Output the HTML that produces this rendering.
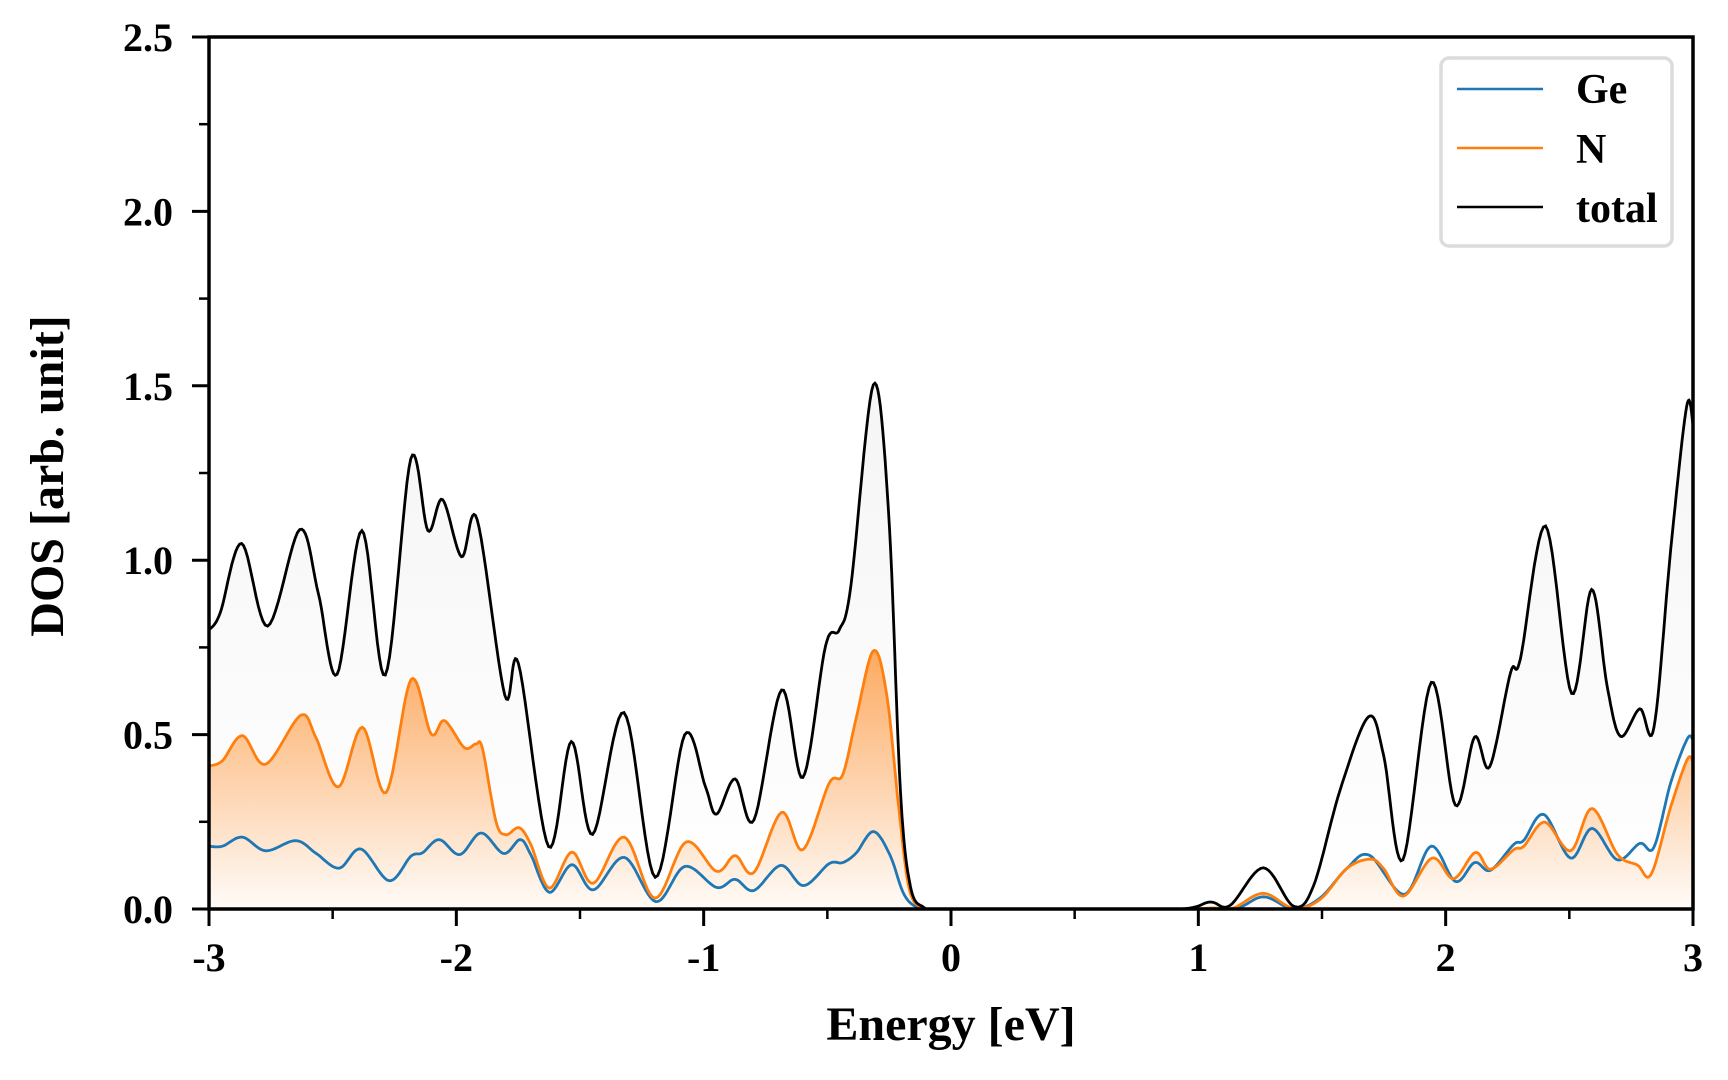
<!DOCTYPE html>
<html><head><meta charset="utf-8">
<style>
html,body{margin:0;padding:0;background:#fff;}
svg{display:block;}
text{font-family:"Liberation Serif",serif;font-weight:bold;fill:#000;}
</style></head>
<body>
<svg id="chart" width="1728" height="1080" viewBox="0 0 1728 1080" xmlns="http://www.w3.org/2000/svg">
<defs>
<linearGradient id="gradTotal" gradientUnits="userSpaceOnUse" x1="0" y1="385" x2="0" y2="909">
<stop offset="0" stop-color="#f5f5f5"/><stop offset="1" stop-color="#ffffff"/>
</linearGradient>
<linearGradient id="gradN" gradientUnits="userSpaceOnUse" x1="0" y1="650" x2="0" y2="909">
<stop offset="0" stop-color="#ff7f0e" stop-opacity="0.65"/><stop offset="1" stop-color="#ff7f0e" stop-opacity="0.03"/>
</linearGradient>
<clipPath id="plotClip"><rect x="209" y="37" width="1484" height="872"/></clipPath>
</defs>
<g id="fills" clip-path="url(#plotClip)"></g>
<g id="lines" clip-path="url(#plotClip)"></g>
<rect x="209" y="37" width="1484" height="872" fill="none" stroke="#000" stroke-width="3.5"/>
<g id="axes"></g>
<text x="951" y="1040" font-size="48" text-anchor="middle">Energy [eV]</text>
<text transform="translate(63,476) rotate(-90)" font-size="48" text-anchor="middle">DOS [arb. unit]</text>
<g>
<rect x="1441" y="58" width="231" height="188" rx="8" fill="#fff" stroke="#dcdcdc" stroke-width="3.5"/>
<g><line x1="1457" y1="89" x2="1543" y2="89" stroke="#1f77b4" stroke-width="2.5"/><text x="1576" y="103" font-size="42">Ge</text></g>
<g><line x1="1457" y1="148" x2="1543" y2="148" stroke="#ff7f0e" stroke-width="2.5"/><text x="1576" y="163" font-size="42">N</text></g>
<g><line x1="1457" y1="207" x2="1543" y2="207" stroke="#000" stroke-width="2.5"/><text x="1576" y="222" font-size="42">total</text></g>
</g>
</svg>
<script>
const xTicks = [-3,-2,-1,0,1,2,3];
const xTickLabels = ["-3","-2","-1","0","1","2","3"];
const yTicks = [0,0.5,1.0,1.5,2.0,2.5];
const yTickLabels = ["0.0","0.5","1.0","1.5","2.0","2.5"];
const xDomain = [-3,3];
const yDomain = [0,2.5];

const totalE = [-3.0,-2.955,-2.868,-2.763,-2.633,-2.558,-2.482,-2.382,-2.287,-2.184,-2.115,-2.056,-1.979,-1.916,-1.804,-1.749,-1.627,-1.535,-1.449,-1.322,-1.196,-1.077,-0.993,-0.948,-0.873,-0.797,-0.685,-0.599,-0.507,-0.452,-0.405,-0.314,-0.253,-0.205,-0.164,-0.11,-0.04,0.5,0.926,1.047,1.128,1.263,1.385,1.466,1.574,1.688,1.749,1.827,1.942,2.039,2.117,2.178,2.262,2.302,2.404,2.509,2.590,2.653,2.707,2.785,2.842,2.910,2.974,3.0];
const totalDOS = [0.80,0.848,1.048,0.811,1.088,0.905,0.673,1.085,0.671,1.291,1.085,1.174,1.010,1.117,0.613,0.704,0.179,0.480,0.214,0.563,0.091,0.499,0.351,0.272,0.373,0.255,0.628,0.377,0.755,0.800,0.925,1.503,1.145,0.345,0.065,0.005,0,0,0,0.02,0.01,0.118,0.008,0.067,0.343,0.551,0.441,0.141,0.650,0.298,0.493,0.408,0.677,0.717,1.098,0.618,0.916,0.638,0.495,0.574,0.520,1.031,1.440,1.39];

const nE = [-3.0,-2.946,-2.865,-2.771,-2.630,-2.568,-2.477,-2.380,-2.284,-2.183,-2.102,-2.048,-1.968,-1.921,-1.894,-1.840,-1.800,-1.746,-1.699,-1.624,-1.533,-1.446,-1.321,-1.197,-1.071,-0.948,-0.873,-0.797,-0.685,-0.599,-0.493,-0.438,-0.384,-0.314,-0.26,-0.212,-0.171,-0.123,-0.05,0.5,0.926,1.061,1.142,1.263,1.385,1.493,1.600,1.695,1.749,1.830,1.945,2.032,2.120,2.181,2.275,2.316,2.401,2.505,2.592,2.694,2.775,2.831,2.910,2.977,3.0];
const nDOS = [0.41,0.425,0.497,0.415,0.555,0.492,0.35,0.521,0.334,0.658,0.502,0.540,0.463,0.473,0.459,0.252,0.213,0.233,0.185,0.06,0.163,0.074,0.206,0.031,0.192,0.108,0.153,0.105,0.277,0.17,0.36,0.385,0.545,0.74,0.615,0.295,0.065,0.005,0,0,0,0.003,0.003,0.045,0.002,0.028,0.116,0.143,0.116,0.037,0.146,0.087,0.162,0.114,0.170,0.180,0.249,0.167,0.288,0.157,0.126,0.100,0.293,0.429,0.421];

const geE = [-3.0,-2.946,-2.865,-2.771,-2.649,-2.568,-2.474,-2.386,-2.272,-2.184,-2.137,-2.069,-1.986,-1.900,-1.809,-1.742,-1.699,-1.624,-1.533,-1.446,-1.321,-1.193,-1.076,-0.948,-0.873,-0.797,-0.688,-0.596,-0.493,-0.438,-0.384,-0.314,-0.247,-0.192,-0.137,-0.06,0.5,0.926,1.142,1.263,1.385,1.493,1.600,1.692,1.833,1.941,2.039,2.117,2.181,2.275,2.316,2.397,2.505,2.592,2.694,2.785,2.842,2.910,2.977,3.0];
const geDOS = [0.18,0.18,0.206,0.167,0.196,0.16,0.117,0.172,0.081,0.151,0.161,0.199,0.156,0.218,0.159,0.199,0.156,0.048,0.127,0.055,0.148,0.021,0.122,0.062,0.085,0.053,0.125,0.067,0.13,0.133,0.16,0.222,0.155,0.045,0.005,0,0,0,0,0.035,0,0.032,0.116,0.154,0.042,0.18,0.079,0.133,0.111,0.185,0.197,0.271,0.146,0.231,0.141,0.188,0.177,0.362,0.488,0.485];

const X0=209, X1=1693, Y0=909, Y1=37;
function xScale(v){return X0+(v-xDomain[0])/(xDomain[1]-xDomain[0])*(X1-X0);}
function yScale(v){return Y0-(v-yDomain[0])/(yDomain[1]-yDomain[0])*(Y0-Y1);}
const NS='http://www.w3.org/2000/svg';

function smoothPts(xs,ys){
  const p=xs.map((x,i)=>[xScale(x),yScale(ys[i])]);
  const out=[];
  for(let i=0;i<p.length-1;i++){
    const p0=p[Math.max(0,i-1)],p1=p[i],p2=p[i+1],p3=p[Math.min(p.length-1,i+2)];
    const steps=12;
    for(let s=0;s<steps;s++){
      const t=s/steps,t2=t*t,t3=t2*t;
      const cx=0.5*((2*p1[0])+(-p0[0]+p2[0])*t+(2*p0[0]-5*p1[0]+4*p2[0]-p3[0])*t2+(-p0[0]+3*p1[0]-3*p2[0]+p3[0])*t3);
      let cy=0.5*((2*p1[1])+(-p0[1]+p2[1])*t+(2*p0[1]-5*p1[1]+4*p2[1]-p3[1])*t2+(-p0[1]+3*p1[1]-3*p2[1]+p3[1])*t3);
      if(cy>Y0) cy=Y0;
      out.push([cx,cy]);
    }
  }
  out.push(p[p.length-1]);
  return out;
}
function lineD(pts){return 'M'+pts.map(q=>q[0].toFixed(1)+','+q[1].toFixed(1)).join(' L');}
function areaD(pts){return lineD(pts)+' L'+pts[pts.length-1][0].toFixed(1)+','+Y0+' L'+pts[0][0].toFixed(1)+','+Y0+' Z';}

const fills=document.getElementById('fills');
const lines=document.getElementById('lines');
const tP=smoothPts(totalE,totalDOS), nP=smoothPts(nE,nDOS), gP=smoothPts(geE,geDOS);

let a=document.createElementNS(NS,'path');
a.setAttribute('d',areaD(tP));a.setAttribute('fill','url(#gradTotal)');


fills.appendChild(a);
a=document.createElementNS(NS,'path');
a.setAttribute('d',areaD(nP));a.setAttribute('fill','url(#gradN)');


fills.appendChild(a);

let l=document.createElementNS(NS,'path');
l.setAttribute('d',lineD(gP));l.setAttribute('fill','none');l.setAttribute('stroke','#1f77b4');l.setAttribute('stroke-width','2.8');


lines.appendChild(l);
l=document.createElementNS(NS,'path');
l.setAttribute('d',lineD(nP));l.setAttribute('fill','none');l.setAttribute('stroke','#ff7f0e');l.setAttribute('stroke-width','2.8');


lines.appendChild(l);
l=document.createElementNS(NS,'path');
l.setAttribute('d',lineD(tP));l.setAttribute('fill','none');l.setAttribute('stroke','#000');l.setAttribute('stroke-width','2.8');


lines.appendChild(l);

const axes=document.getElementById('axes');
function tick(x1,y1,x2,y2,w){const t=document.createElementNS(NS,'line');t.setAttribute('x1',x1);t.setAttribute('y1',y1);t.setAttribute('x2',x2);t.setAttribute('y2',y2);t.setAttribute('stroke','#000');t.setAttribute('stroke-width',w);return t;}
xTicks.forEach((v,i)=>{
  const x=xScale(v);
  const t=tick(x,Y0,x,Y0+17,3);
  
  
  axes.appendChild(t);
  const tx=document.createElementNS(NS,'text');
  tx.setAttribute('x',x);tx.setAttribute('y',971);tx.setAttribute('font-size','40');tx.setAttribute('text-anchor','middle');
  tx.textContent=xTickLabels[i];
  
  
  axes.appendChild(tx);
  if(i<xTicks.length-1){
    const mx=xScale(v+0.5);
    const m=tick(mx,Y0,mx,Y0+10,2.5);
    
    
    axes.appendChild(m);
  }
});
yTicks.forEach((v,i)=>{
  const y=yScale(v);
  const t=tick(X0-17,y,X0,y,3);
  
  
  axes.appendChild(t);
  const tx=document.createElementNS(NS,'text');
  tx.setAttribute('x',173);tx.setAttribute('y',y+14);tx.setAttribute('font-size','40');tx.setAttribute('text-anchor','end');
  tx.textContent=yTickLabels[i];
  
  
  axes.appendChild(tx);
  if(i<yTicks.length-1){
    const my=yScale(v+0.25);
    const m=tick(X0-10,my,X0,my,2.5);
    
    
    axes.appendChild(m);
  }
});
</script>
</body></html>
